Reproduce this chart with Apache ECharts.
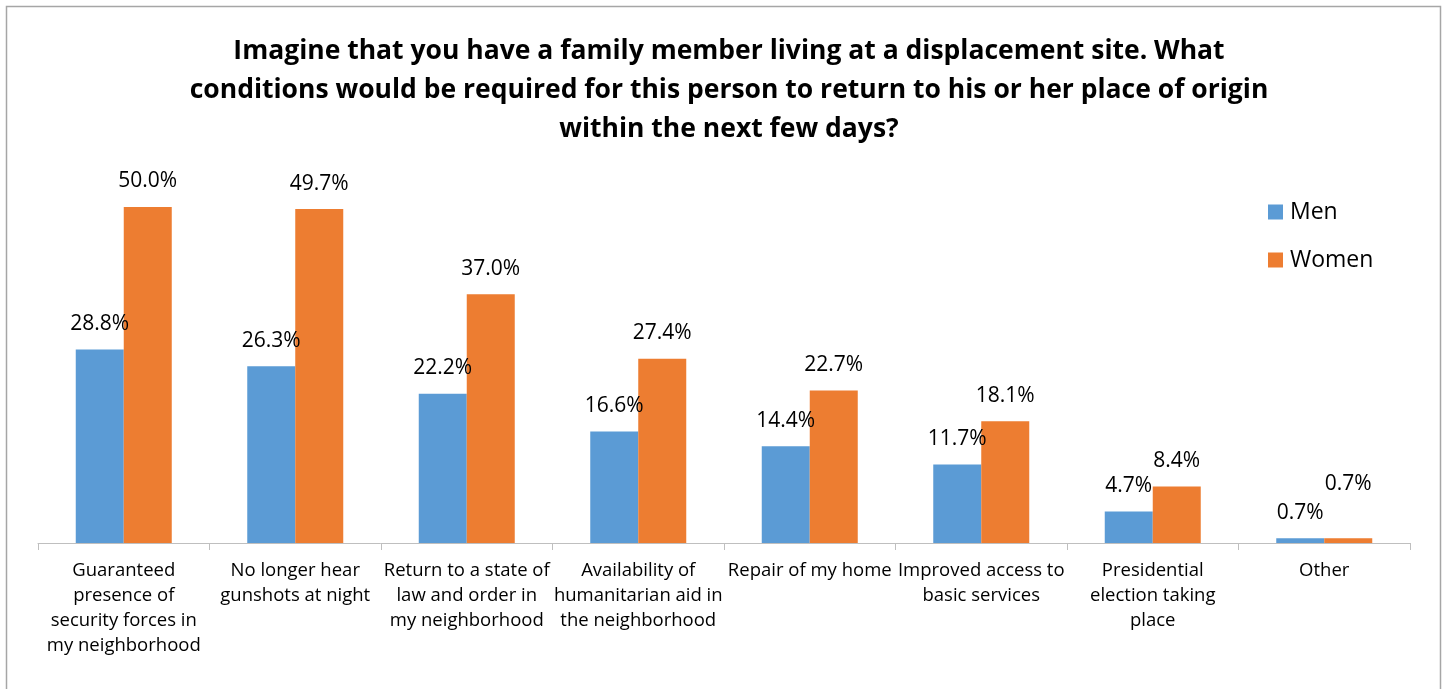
<!DOCTYPE html>
<html>
<head>
<meta charset="utf-8">
<script src="https://cdn.jsdelivr.net/npm/echarts@6/dist/echarts.min.js"></script>
<style>
  html, body { margin: 0; padding: 0; background: #fff; }
  #chart { width: 1444px; height: 689px; }
</style>
</head>
<body>
<div id="chart"></div>
<script>
const categories = [
  'Guaranteed\npresence of\nsecurity forces in\nmy neighborhood',
  'No longer hear\ngunshots at night',
  'Return to a state of\nlaw and order in\nmy neighborhood',
  'Availability of\nhumanitarian aid in\nthe neighborhood',
  'Repair of my home',
  'Improved access to\nbasic services',
  'Presidential\nelection taking\nplace',
  'Other'
];
const men = [28.8, 26.3, 22.2, 16.6, 14.4, 11.7, 4.7, 0.7];
const women = [50.0, 49.7, 37.0, 27.4, 22.7, 18.1, 8.4, 0.7];

const FONT = '"Open Sans", Lato, sans-serif';

const chart = echarts.init(document.getElementById('chart'));

// Women's "Other" label sits higher so it clears the neighbouring label
const womenData = women.map((v, i) => i === women.length - 1
  ? { value: v, label: { distance: 44 } }
  : v);

const pct = p => Number(p.value).toFixed(1) + '%';

chart.setOption({
  animation: false,
  textStyle: { fontFamily: FONT },
  title: {
    text: 'Imagine that you have a family member living at a displacement site. What\nconditions would be required for this person to return to his or her place of origin\nwithin the next few days?',
    left: 724,
    top: 27,
    textAlign: 'center',
    textStyle: {
      fontFamily: FONT,
      fontSize: 26.5,
      fontWeight: 'bold',
      color: '#000',
      lineHeight: 39
    }
  },
  legend: {
    orient: 'vertical',
    left: 1268,
    top: 200,
    padding: 0,
    itemWidth: 15,
    itemHeight: 15,
    itemGap: 24,
    icon: 'rect',
    textStyle: { fontFamily: FONT, fontSize: 23, lineHeight: 24, color: '#000', padding: [0, 0, 0, 2] },
    data: ['Men', 'Women']
  },
  graphic: [{
    type: 'rect',
    shape: { x: 6.5, y: 6.5, width: 1434, height: 720 },
    style: { fill: 'none', stroke: '#a6a6a6', lineWidth: 1.5 },
    silent: true
  }],
  grid: { left: 38, right: 34, top: 207, bottom: 146 },
  xAxis: {
    type: 'category',
    data: categories,
    axisLine: { lineStyle: { color: '#bfbfbf', width: 1 } },
    axisTick: { show: true, length: 7, lineStyle: { color: '#bfbfbf' } },
    axisLabel: {
      interval: 0,
      margin: 15,
      fontFamily: FONT,
      fontSize: 18.5,
      lineHeight: 25,
      color: '#000'
    }
  },
  yAxis: {
    type: 'value',
    min: 0,
    max: 50,
    show: false,
    splitLine: { show: false }
  },
  series: [
    {
      name: 'Men',
      type: 'bar',
      data: men,
      barWidth: 48,
      barGap: '0%',
      itemStyle: { color: '#5b9bd5' },
      label: {
        show: true,
        position: 'top',
        distance: 15,
        fontFamily: FONT,
        fontSize: 21,
        color: '#000',
        formatter: pct
      }
    },
    {
      name: 'Women',
      type: 'bar',
      data: womenData,
      barWidth: 48,
      barGap: '0%',
      itemStyle: { color: '#ed7d31' },
      label: {
        show: true,
        position: 'top',
        distance: 15,
        fontFamily: FONT,
        fontSize: 21,
        color: '#000',
        formatter: pct
      }
    }
  ]
});
</script>
</body>
</html>
